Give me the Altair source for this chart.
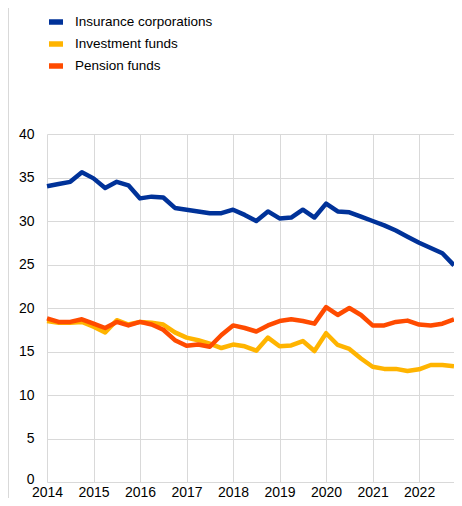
import altair as alt
import pandas as pd

# Quarterly observations 2014 Q1 - 2022 Q4 (percentages)
quarters = [2014 + i * 0.25 for i in range(36)]

insurance = [34.0, 34.25, 34.5, 35.6, 34.9, 33.8, 34.5, 34.1,
             32.6, 32.8, 32.7, 31.5, 31.3, 31.1, 30.9, 30.9,
             31.3, 30.7, 30.0, 31.1, 30.3, 30.4, 31.3, 30.4,
             32.0, 31.1, 31.0, 30.5, 30.0, 29.5, 28.9, 28.2,
             27.5, 26.9, 26.3, 24.9]
investment = [18.5, 18.3, 18.3, 18.4, 17.85, 17.2, 18.6, 18.1,
              18.4, 18.3, 18.1, 17.2, 16.6, 16.3, 15.9, 15.4,
              15.8, 15.6, 15.1, 16.6, 15.6, 15.7, 16.2, 15.05,
              17.1, 15.75, 15.3, 14.2, 13.25, 13.0, 13.0, 12.75,
              12.95, 13.45, 13.45, 13.3]
pension = [18.8, 18.4, 18.4, 18.7, 18.2, 17.7, 18.4, 18.0,
           18.4, 18.1, 17.5, 16.3, 15.65, 15.8, 15.55, 16.9,
           18.0, 17.7, 17.3, 18.0, 18.5, 18.7, 18.5, 18.2,
           20.1, 19.2, 20.0, 19.2, 18.0, 18.0, 18.4, 18.55,
           18.1, 18.0, 18.2, 18.7]

series_names = ["Insurance corporations", "Investment funds", "Pension funds"]
series_colors = ["#003299", "#FFB400", "#FF4B00"]
year_ticks = list(range(2014, 2023))
y_ticks = [0, 5, 10, 15, 20, 25, 30, 35, 40]

rows = []
for name, vals in zip(series_names, [insurance, investment, pension]):
    for q, v in zip(quarters, vals):
        rows.append({"date": q, "value": v, "series": name})
df = pd.DataFrame(rows)

W, H = 407, 348
PAD_TOP, PAD_BOTTOM = 126, 16

lines = alt.Chart(df).mark_line(strokeWidth=4.5, strokeJoin="round").encode(
    x=alt.X("date:Q",
            scale=alt.Scale(domain=[2014, 2022.75], nice=False, zero=False),
            axis=alt.Axis(values=year_ticks, format="d", title=None,
                          domain=False, ticks=False, labelPadding=3,
                          labelFontSize=14, labelColor="#000000",
                          gridColor="#d9d9d9", labelFlush=False)),
    y=alt.Y("value:Q",
            scale=alt.Scale(domain=[0, 40], nice=False),
            axis=alt.Axis(values=y_ticks, title=None, domain=False,
                          ticks=False, labelPadding=13, labelFontSize=14,
                          labelColor="#000000", gridColor="#d9d9d9",
                          labelOffset={"condition": {"test": "datum.value == 0",
                                                     "value": -3},
                                       "value": 0})),
    color=alt.Color("series:N",
                    scale=alt.Scale(domain=series_names, range=series_colors),
                    legend=alt.Legend(title=None, orient="none",
                                      legendX=-1, legendY=-122,
                                      symbolType="stroke", symbolSize=196,
                                      symbolStrokeWidth=5.5,
                                      labelFontSize=13.5, labelColor="#000000",
                                      labelOffset=9, rowPadding=0)),
)

border = alt.Chart(df).mark_rule(color="#d9d9d9", strokeWidth=1).encode(
    x=alt.value(-38.5), y=alt.value(-PAD_TOP), y2=alt.value(H + PAD_BOTTOM)
)

chart = alt.layer(border, lines).properties(
    width=W, height=H,
    autosize=alt.AutoSizeParams(type="none"),
    padding={"left": 39, "top": PAD_TOP, "right": 0, "bottom": PAD_BOTTOM},
).configure(
    font="Liberation Sans"
).configure_view(stroke=None)

chart.save("out.html", embed_options={"renderer": "svg", "actions": False})
